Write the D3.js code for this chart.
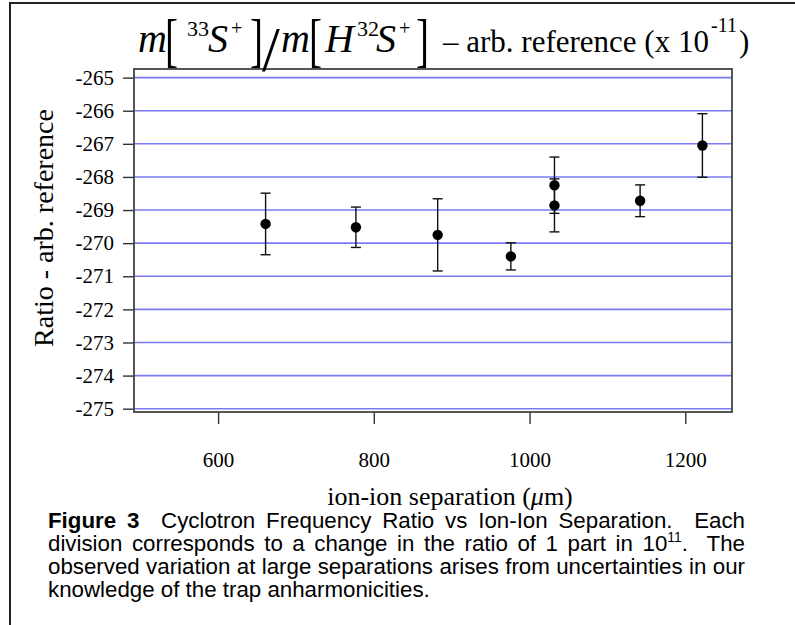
<!DOCTYPE html>
<html>
<head>
<meta charset="utf-8">
<script src="https://cdn.jsdelivr.net/npm/d3@7"></script>
<style>
  html, body { margin: 0; padding: 0; background: #fff; }
  svg { display: block; }
  .serif { font-family: "Liberation Serif", "Times New Roman", serif; }
  .sans { font-family: "Liberation Sans", Arial, sans-serif; }
</style>
</head>
<body>
<svg id="chart" width="795" height="625"></svg>
<script>
// ---- data ----
const separation = [661, 777, 882, 976, 1032, 1032, 1142, 1222];
const ratio      = [-269.42, -269.52, -269.75, -270.40, -268.25, -268.86, -268.72, -267.05];
const errHalf    = [0.93, 0.61, 1.09, 0.41, 0.85, 0.80, 0.48, 0.96];
const yTicks = [-265, -266, -267, -268, -269, -270, -271, -272, -273, -274, -275];
const xTicks = [600, 800, 1000, 1200];
const xDomain = [492, 1260];
const yDomain = [-275.1, -264.74];

const captionLines = [
  [{t: "Figure 3", b: true}, {t: "  Cyclotron Frequency Ratio vs Ion-Ion Separation.  Each"}],
  [{t: "division corresponds to a change in the ratio of 1 part in 10"}, {t: "11", sup: true}, {t: ".  The", after: true}],
  [{t: "observed variation at large separations arises from uncertainties in our"}],
  [{t: "knowledge of the trap anharmonicities."}]
];

const svg = d3.select("#chart");
const W = 795, H = 625;
const plot = {left: 134, right: 732, top: 69, bottom: 412};

// outer frame (top and left edges)
svg.append("path")
  .attr("d", `M10,${H} L10,3 L${W},3`)
  .attr("fill", "none").attr("stroke", "#222").attr("stroke-width", 2);

const x = d3.scaleLinear().domain(xDomain).range([plot.left, plot.right]);
const y = d3.scaleLinear().domain(yDomain).range([plot.bottom, plot.top]);

// gridlines
svg.append("g").selectAll("line").data(yTicks).join("line")
  .attr("x1", plot.left).attr("x2", plot.right)
  .attr("y1", d => y(d)).attr("y2", d => y(d))
  .attr("stroke", "#7a7af6").attr("stroke-width", 1.6);

// axes
const yAxis = svg.append("g").attr("transform", `translate(${plot.left},0)`)
  .call(d3.axisLeft(y).tickValues(yTicks).tickSize(11).tickPadding(9).tickFormat(d => String(d)));
const xAxis = svg.append("g").attr("transform", `translate(0,${plot.bottom})`)
  .call(d3.axisBottom(x).tickValues(xTicks).tickSize(12).tickPadding(28).tickFormat(d => String(d)));
[yAxis, xAxis].forEach(g => {
  g.select(".domain").remove();
  g.selectAll(".tick line").attr("stroke", "#333").attr("stroke-width", 1.4);
  g.selectAll(".tick text").attr("fill", "#000").attr("class", "serif");
});
yAxis.selectAll(".tick text").attr("font-size", 21);
xAxis.selectAll(".tick text").attr("font-size", 21);

// plot box
svg.append("rect")
  .attr("x", plot.left).attr("y", plot.top)
  .attr("width", plot.right - plot.left).attr("height", plot.bottom - plot.top)
  .attr("fill", "none").attr("stroke", "#444").attr("stroke-width", 1.8);

// error bars + points
const pts = separation.map((s, i) => ({s, r: ratio[i], e: errHalf[i]}));
const eg = svg.append("g").attr("stroke", "#111").attr("stroke-width", 1.4);
eg.selectAll("line.v").data(pts).join("line").attr("class", "v")
  .attr("x1", d => x(d.s)).attr("x2", d => x(d.s))
  .attr("y1", d => y(d.r + d.e)).attr("y2", d => y(d.r - d.e));
eg.selectAll("line.ct").data(pts).join("line").attr("class", "ct")
  .attr("x1", d => x(d.s) - 5).attr("x2", d => x(d.s) + 5)
  .attr("y1", d => y(d.r + d.e)).attr("y2", d => y(d.r + d.e));
eg.selectAll("line.cb").data(pts).join("line").attr("class", "cb")
  .attr("x1", d => x(d.s) - 5).attr("x2", d => x(d.s) + 5)
  .attr("y1", d => y(d.r - d.e)).attr("y2", d => y(d.r - d.e));
svg.append("g").selectAll("circle").data(pts).join("circle")
  .attr("cx", d => x(d.s)).attr("cy", d => y(d.r)).attr("r", 5.2).attr("fill", "#000");

// axis titles
svg.append("text").attr("class", "serif")
  .attr("transform", "translate(53,228) rotate(-90)")
  .attr("text-anchor", "middle").attr("font-size", 28).text("Ratio - arb. reference");

const xt = svg.append("text").attr("class", "serif")
  .attr("x", 450).attr("y", 505).attr("text-anchor", "middle").attr("font-size", 26);
xt.append("tspan").text("ion-ion separation (");
xt.append("tspan").attr("font-style", "italic").text("\u03bc");
xt.append("tspan").text("m)");

// title (pieces positioned individually)
const title = svg.append("text").attr("class", "serif").style("white-space", "pre");
const titlePieces = [
  {t: "m", x: 138, y: 52, fs: 40, it: true},
  {t: "33", x: 187, y: 36, fs: 22},
  {t: "S", x: 208, y: 52, fs: 40, it: true},
  {t: "+", x: 231, y: 35, fs: 20},
  {t: "/", x: 262, y: 71, fs: 64},
  {t: "m", x: 281, y: 52, fs: 40, it: true},
  {t: "H", x: 325, y: 52, fs: 40, it: true},
  {t: "32", x: 357, y: 36, fs: 22},
  {t: "S", x: 376, y: 52, fs: 40, it: true},
  {t: "+", x: 399, y: 35, fs: 20},
  {t: "\u2013 arb. reference (x 10", x: 443, y: 52, fs: 31},
  {t: "-11", x: 711, y: 32, fs: 20},
  {t: ")", x: 739, y: 52, fs: 31}
];
titlePieces.forEach(p => {
  const ts = title.append("tspan").attr("x", p.x).attr("y", p.y).attr("font-size", p.fs).text(p.t);
  if (p.it) ts.attr("font-style", "italic");
});
// tall thin brackets of the title
const brackets = [
  {t: "[", x: 165}, {t: "]", x: 250}, {t: "[", x: 309}, {t: "]", x: 416}
];
svg.append("g").selectAll("text").data(brackets).join("text")
  .attr("class", "serif").attr("font-size", 60)
  .attr("transform", d => `translate(${d.x},60) scale(0.65,1)`)
  .text(d => d.t);

// caption (justified)
const capLeft = 48, capRight = 745, capFs = 22.3;
const capBase = [528, 551, 574, 597];
captionLines.forEach((parts, li) => {
  const t = svg.append("text").attr("class", "sans").attr("x", capLeft).attr("y", capBase[li])
    .attr("font-size", capFs).style("white-space", "pre").attr("fill", "#000");
  parts.forEach(p => {
    const ts = t.append("tspan").text(p.t);
    if (p.b) ts.attr("font-weight", "bold");
    if (p.sup) ts.attr("font-size", capFs * 0.62).attr("dy", -9);
    if (p.after) ts.attr("dy", 9);
  });
  if (li < captionLines.length - 1) {
    const w = t.node().getComputedTextLength();
    const full = parts.map(p => p.t).join("");
    const nSp = (full.match(/ /g) || []).length;
    const extra = (capRight - capLeft - w) / nSp;
    t.attr("word-spacing", extra);
  }
});
</script>
</body>
</html>
